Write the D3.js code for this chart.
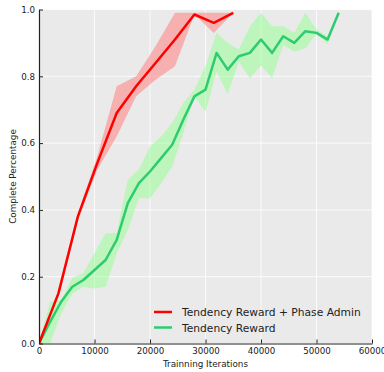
<!DOCTYPE html>
<html><head><meta charset="utf-8">
<script src="https://cdn.jsdelivr.net/npm/d3@7"></script>
<style>body{margin:0;background:#fff}svg{display:block}text{font-family:"DejaVu Sans",sans-serif}</style>
</head><body><svg id="c" width="384" height="372"></svg>
<script>
const redX = [0,3500,7000,10500,14000,17500,21000,24500,28000,31500,35000];
const redY = [0,0.15,0.38,0.54,0.69,0.77,0.84,0.91,0.985,0.96,0.99];
const redLo = [0,0.14,0.37,0.52,0.62,0.74,0.79,0.83,0.985,0.93,0.99];
const redHi = [0,0.16,0.39,0.56,0.77,0.80,0.89,0.99,0.99,0.99,0.99];

const greenX = [0,2000,4000,6000,8000,10000,12000,14000,16000,18000,20000,22000,24000,26000,28000,30000,32000,34000,36000,38000,40000,42000,44000,46000,48000,50000,52000,54000];
const greenY = [0,0.065,0.125,0.17,0.19,0.22,0.25,0.31,0.42,0.48,0.515,0.555,0.595,0.67,0.74,0.76,0.87,0.82,0.86,0.87,0.91,0.87,0.92,0.90,0.935,0.93,0.91,0.99];
const greenLo = [0,0,0.09,0.15,0.17,0.165,0.17,0.27,0.34,0.435,0.435,0.48,0.53,0.63,0.74,0.694,0.814,0.746,0.844,0.794,0.832,0.794,0.894,0.874,0.884,0.928,0.896,0.99];
const greenHi = [0,0.125,0.13,0.197,0.21,0.27,0.33,0.33,0.49,0.52,0.59,0.62,0.66,0.72,0.76,0.83,0.93,0.90,0.88,0.95,0.99,0.95,0.95,0.93,0.99,0.94,0.92,0.99];

const xTicks = [0,10000,20000,30000,40000,50000,60000];
const yTicks = [0,0.2,0.4,0.6,0.8,1.0];
const seriesNames = ["Tendency Reward + Phase Admin","Tendency Reward"];
const xLabel = "Trainning Iterations", yLabel = "Complete Percentage";

const svg = d3.select("#c");
const L=39,R=372,T=9.5,B=343.5;
const x = d3.scaleLinear().domain([0,60000]).range([L,R]);
const y = d3.scaleLinear().domain([0,1]).range([B,T]);

svg.append("rect").attr("x",L).attr("y",T).attr("width",R-L).attr("height",B-T).attr("fill","#eaeaea");
const g = svg.append("g");
g.selectAll(".gx").data(xTicks).join("line").attr("x1",d=>x(d)).attr("x2",d=>x(d)).attr("y1",T).attr("y2",B).attr("stroke","#fff").attr("stroke-width",0.8);
g.selectAll(".gy").data(yTicks).join("line").attr("y1",d=>y(d)).attr("y2",d=>y(d)).attr("x1",L).attr("x2",R).attr("stroke","#fff").attr("stroke-width",0.8);

svg.append("clipPath").attr("id","pc").append("rect").attr("x",L).attr("y",T-2).attr("width",R-L).attr("height",B-T+2);
const plot = svg.append("g").attr("clip-path","url(#pc)");

function band(X,lo,hi){return d3.area().x((d,i)=>x(X[i])).y0((d,i)=>y(lo[i])).y1((d,i)=>y(hi[i]))(X);}
function line(X,Y){return d3.line().x((d,i)=>x(X[i])).y((d,i)=>y(Y[i]))(X);}

plot.append("path").attr("d",band(redX,redLo,redHi)).attr("fill","#ff7f7f").attr("fill-opacity",0.55);
plot.append("path").attr("d",band(greenX,greenLo,greenHi)).attr("fill","#90ff90").attr("fill-opacity",0.5);
plot.append("path").attr("d",line(greenX,greenY)).attr("fill","none").attr("stroke","#2ecc71").attr("stroke-width",2.5).attr("stroke-linejoin","round");
plot.append("path").attr("d",line(redX,redY)).attr("fill","none").attr("stroke","#ff0000").attr("stroke-width",2.5).attr("stroke-linejoin","round");

const xa = svg.append("g").attr("transform",`translate(0,${B})`).call(d3.axisBottom(x).tickValues(xTicks).tickSizeInner(-4).tickSizeOuter(0).tickPadding(4).tickFormat(d3.format("d")));
const ya = svg.append("g").attr("transform",`translate(${L},0)`).call(d3.axisLeft(y).tickValues(yTicks).tickSizeInner(-4).tickSizeOuter(0).tickPadding(4).tickFormat(d3.format(".1f")));
[xa,ya].forEach(a=>{a.select(".domain").attr("stroke","#222").attr("stroke-width",1.2);a.selectAll(".tick line").attr("stroke","#222");a.selectAll("text").attr("fill","#222").style("font-size","8.7px").style("font-family","DejaVu Sans");});

svg.append("text").attr("x",(L+R)/2).attr("y",367).attr("text-anchor","middle").attr("fill","#222").style("font-size","8.8px").text(xLabel);
svg.append("text").attr("transform",`translate(16,${(T+B)/2}) rotate(-90)`).attr("text-anchor","middle").attr("fill","#222").style("font-size","8.8px").text(yLabel);

const colors=["#ff0000","#2ecc71"];
seriesNames.forEach((n,i)=>{
  const ly=312+i*15.5;
  svg.append("line").attr("x1",154).attr("x2",172).attr("y1",ly).attr("y2",ly).attr("stroke",colors[i]).attr("stroke-width",2.5);
  svg.append("text").attr("x",182).attr("y",ly+4).attr("fill","#222").style("font-size","10.7px").text(n);
});
</script></body></html>
